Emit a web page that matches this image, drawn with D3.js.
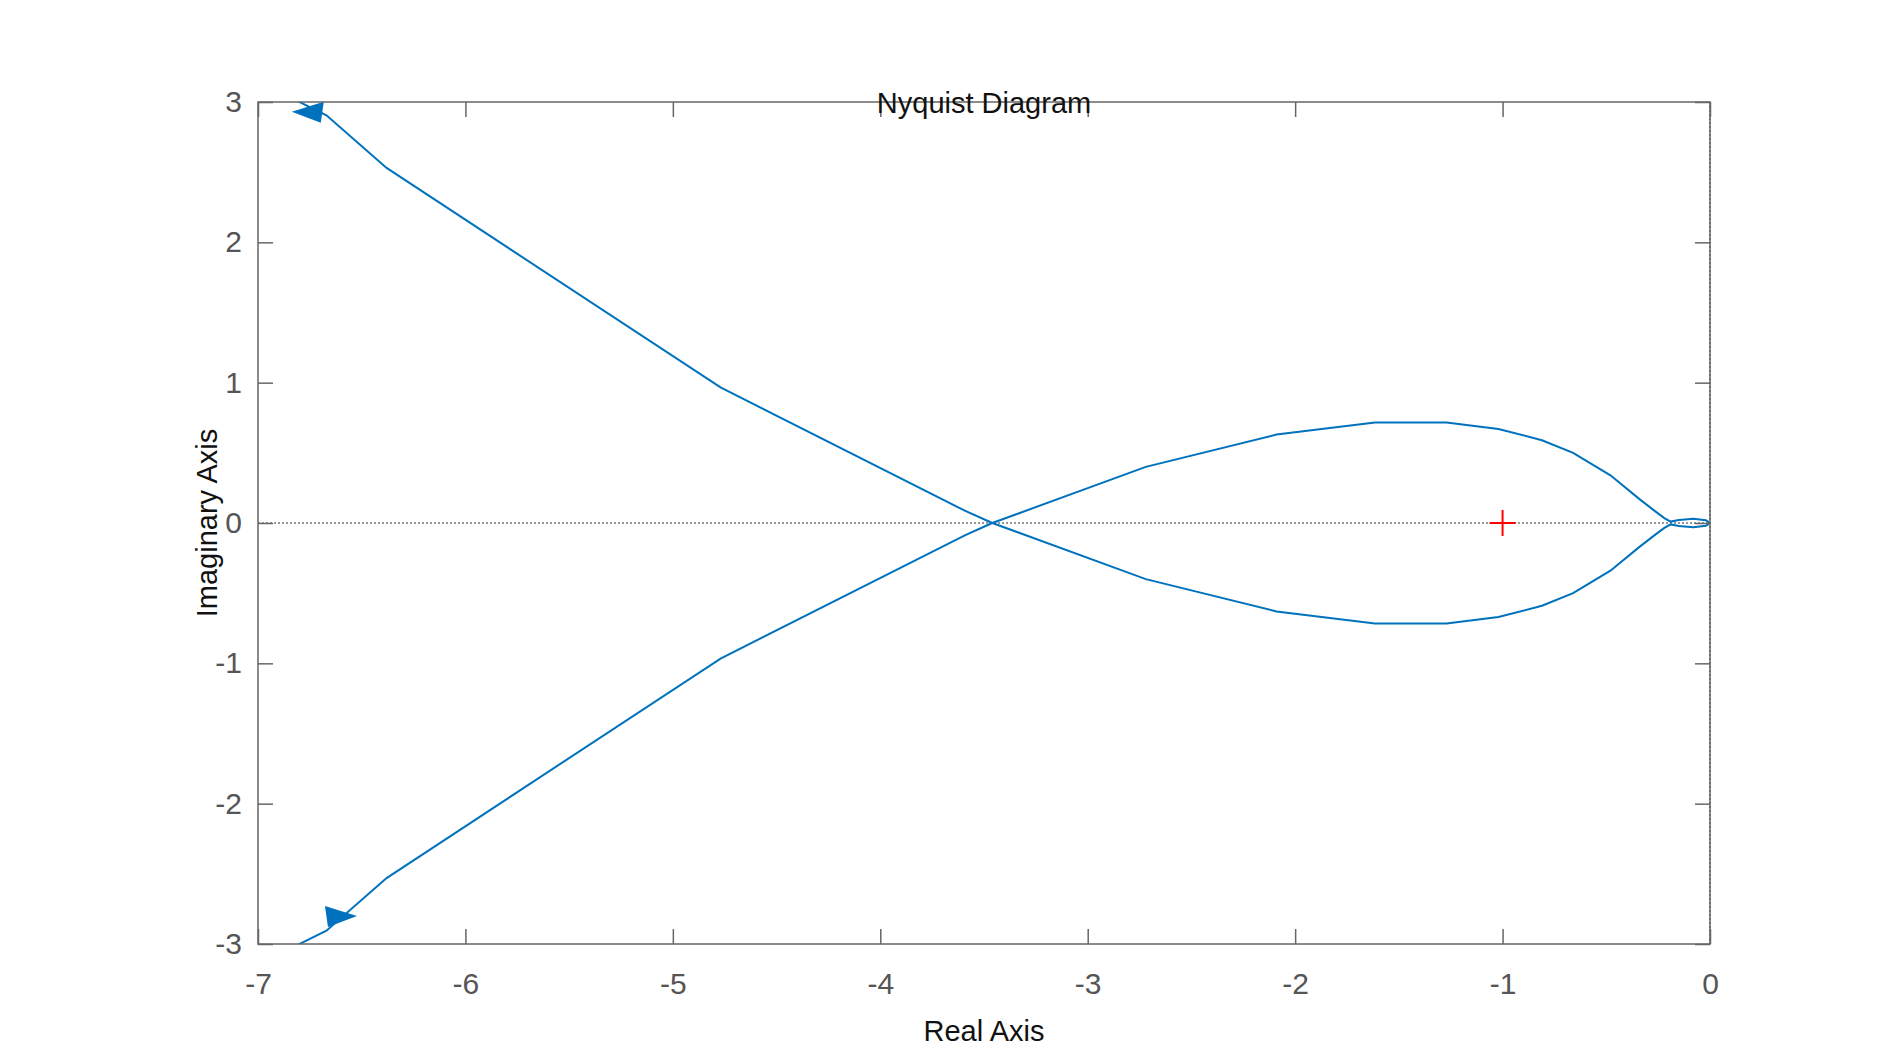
<!DOCTYPE html>
<html><head><meta charset="utf-8">
<script src="https://cdn.jsdelivr.net/npm/d3@7"></script>
<style>body{margin:0;background:#fff}svg{font-family:"Liberation Sans",Arial,sans-serif}</style>
</head><body>
<svg id="chart" width="1890" height="1063"></svg>
<script>
// upper half of the Nyquist curve; the lower half is its conjugate
const branchRe = [-6.95, -6.67, -6.38, -4.77, -3.59, -3.46, -2.72, -2.09, -1.615, -1.27, -1.02, -0.81, -0.66, -0.48, -0.34, -0.27, -0.22, -0.19, -0.15, -0.08, -0.02, 0];
const branchIm = [3.11, 2.905, 2.53, 0.966, 0.086, 0, -0.40, -0.63, -0.716, -0.716, -0.67, -0.59, -0.50, -0.34, -0.17, -0.09, -0.035, -0.01, -0.022, -0.03, -0.02, 0];
const xTicks = [-7, -6, -5, -4, -3, -2, -1, 0];
const yTicks = [-3, -2, -1, 0, 1, 2, 3];

const margin = { left: 258, right: 180, top: 102, bottom: 119 };
const W = 1890, H = 1063;
const svg = d3.select("#chart");

const x = d3.scaleLinear().domain([-7, 0]).range([margin.left, W - margin.right]);
const y = d3.scaleLinear().domain([-3, 3]).range([H - margin.bottom, margin.top]);

const grey = "#666";

svg.append("defs").append("clipPath").attr("id", "clip")
  .append("rect").attr("x", x(-7)).attr("y", y(3)).attr("width", x(0) - x(-7)).attr("height", y(-3) - y(3));

// dotted zero lines
svg.append("line").attr("x1", x(-7)).attr("x2", x(0)).attr("y1", y(0)).attr("y2", y(0))
  .attr("stroke", "#333").attr("stroke-width", 1.2).attr("stroke-dasharray", "2,2");
svg.append("line").attr("x1", x(0)).attr("x2", x(0)).attr("y1", y(-3)).attr("y2", y(3))
  .attr("stroke", "#333").attr("stroke-width", 1.2).attr("stroke-dasharray", "2,2");

const pts = branchRe.map((r, i) => [r, branchIm[i]]);
const line = d3.line().x(d => x(d[0])).y(d => y(d[1]));
const g = svg.append("g").attr("clip-path", "url(#clip)");
g.append("path").attr("d", line(pts)).attr("fill", "none").attr("stroke", "#0072bd").attr("stroke-width", 2);
g.append("path").attr("d", line(pts.map(d => [d[0], -d[1]]))).attr("fill", "none").attr("stroke", "#0072bd").attr("stroke-width", 2);

// arrows
function arrow(cx, cy, dir) {
  const px = x(cx), py = y(cy), s = 16;
  svg.append("path")
    .attr("d", `M${px + dir * s},${py} L${px - dir * s},${py - 10} L${px - dir * s + dir * 3},${py + 11} Z`)
    .attr("fill", "#0072bd");
}
arrow(-6.76, 2.93, -1);
arrow(-6.6, -2.8, 1);

// box + axes
svg.append("rect").attr("x", x(-7)).attr("y", y(3)).attr("width", x(0) - x(-7)).attr("height", y(-3) - y(3))
  .attr("fill", "none").attr("stroke", grey).attr("stroke-width", 1.5);
const tl = 15;
const fmt = d => d < 0 ? "-" + Math.abs(d) : String(d);
svg.append("g").attr("transform", `translate(0,${y(-3)})`)
  .call(d3.axisBottom(x).tickValues(xTicks).tickSize(-tl).tickPadding(tl + 14).tickFormat(fmt));
svg.append("g").attr("transform", `translate(0,${y(3)})`)
  .call(d3.axisTop(x).tickValues(xTicks).tickSize(-tl).tickFormat(""));
svg.append("g").attr("transform", `translate(${x(-7)},0)`)
  .call(d3.axisLeft(y).tickValues(yTicks).tickSize(-tl).tickPadding(tl + 1).tickFormat(fmt));
svg.append("g").attr("transform", `translate(${x(0)},0)`)
  .call(d3.axisRight(y).tickValues(yTicks).tickSize(-tl).tickFormat(""));
svg.selectAll(".domain").remove();
svg.selectAll(".tick line").attr("stroke", grey).attr("stroke-width", 1.5);
svg.selectAll(".tick text").attr("fill", "#555").attr("font-size", null).style("font-size", "30px").attr("font-family", null);

// critical point
const cx = x(-1), cy = y(0);
svg.append("path").attr("d", `M${cx - 13},${cy} H${cx + 13} M${cx},${cy - 13} V${cy + 13}`)
  .attr("stroke", "red").attr("stroke-width", 2);

svg.append("text").attr("x", (x(-7) + x(0)) / 2).attr("y", 113).attr("text-anchor", "middle")
  .style("font-size", "29px").attr("fill", "#111").text("Nyquist Diagram");
svg.append("text").attr("x", (x(-7) + x(0)) / 2).attr("y", 1041).attr("text-anchor", "middle")
  .style("font-size", "29px").attr("fill", "#111").text("Real Axis");
svg.append("text").attr("transform", `translate(217,${y(0)}) rotate(-90)`).attr("text-anchor", "middle")
  .style("font-size", "29px").attr("fill", "#111").text("Imaginary Axis");
</script>
</body></html>
